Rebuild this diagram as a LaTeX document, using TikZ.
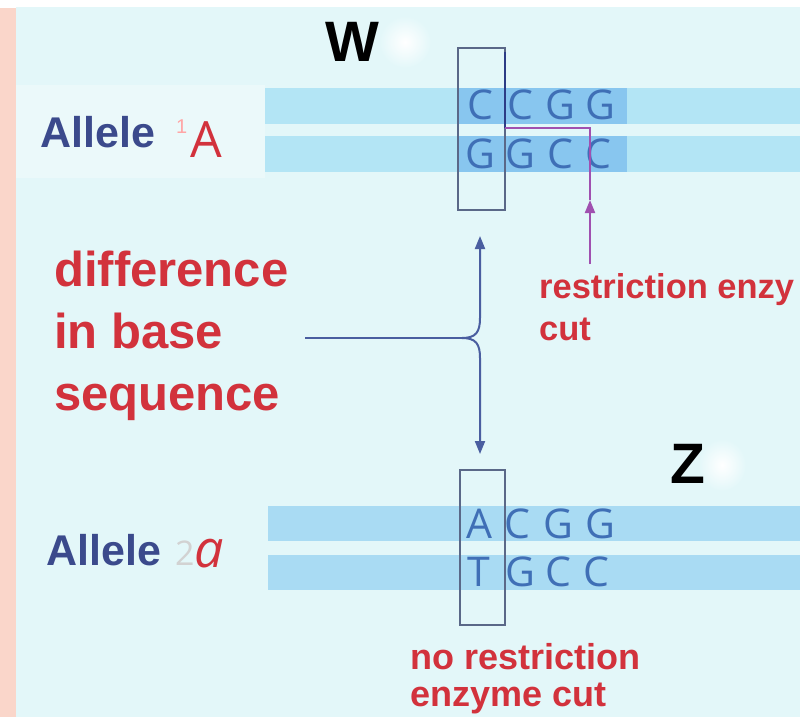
\documentclass[tikz,border=0pt]{standalone}
\usepackage{fontspec}
\setmainfont{Liberation Sans}
\newfontfamily\basefont{Open Sans}
\usetikzlibrary{arrows.meta}
\definecolor{bgcyan}{HTML}{E3F7F9}
\definecolor{pinkstrip}{HTML}{FAD6CA}
\definecolor{bandlight}{HTML}{B3E5F5}
\definecolor{banddark}{HTML}{88C6EF}
\definecolor{bandlow}{HTML}{A9DBF3}
\definecolor{basecol}{HTML}{3F6FB6}
\definecolor{boxcol}{HTML}{5A6888}
\definecolor{redtxt}{HTML}{D2323C}
\definecolor{alleleblue}{HTML}{3B4A8C}
\definecolor{cutpurple}{HTML}{A050B0}
\definecolor{navy}{HTML}{2C3C86}
\definecolor{linkblue}{HTML}{4A5EA0}
\tikzset{
  redlbl/.style={text=redtxt, font=\bfseries, inner sep=0pt, align=left},
  allelelbl/.style={text=alleleblue, font=\bfseries\fontsize{43}{43}\selectfont, inner sep=0pt, anchor=base west},
  bigletter/.style={text=black, font=\bfseries\fontsize{57}{57}\selectfont, inner sep=0pt},
  dnabase/.style={text=basecol, font=\basefont\fontsize{41}{41}\selectfont, inner sep=0pt},
  sitebox/.style={draw=boxcol, line width=2pt},
  link/.style={draw=linkblue, line width=2pt},
  linktip/.style={-{Triangle[length=13pt,width=10pt]}, draw=linkblue, line width=2pt},
  glow/.style={inner color=white, outer color=bgcyan},
}
\begin{document}
\begin{tikzpicture}[x=1pt,y=-1pt]
\useasboundingbox (0,0) rectangle (800,717);
% page background, side strip and soft highlights
\fill[white] (0,0) rectangle (800,717);
\fill[bgcyan] (16,7) rectangle (800,717);
\fill[pinkstrip] (0,8) rectangle (16,717);
\fill[white,opacity=0.3] (16,85) rectangle (265,178);
\shade[glow] (405,42) circle (26);
\shade[glow] (722,465) ellipse (24 and 26);

% DNA strands, allele 1
\fill[bandlight] (265,88) rectangle (800,124);
\fill[bandlight] (265,136) rectangle (800,172);
\fill[banddark] (458,88) rectangle (627,124);
\fill[banddark] (458,136) rectangle (627,172);
% DNA strands, allele 2
\fill[bandlow] (268,506) rectangle (800,541);
\fill[bandlow] (268,555) rectangle (800,590);

% bases, allele 1
\foreach \ch/\x in {C/480,C/520,G/560,G/600} \node[dnabase] at (\x,105) {\ch};
\foreach \ch/\x in {G/480,G/520,C/560,C/598} \node[dnabase] at (\x,154) {\ch};
% bases, allele 2
\foreach \ch/\x in {A/479,C/517,G/558,G/600} \node[dnabase] at (\x,524) {\ch};
\foreach \ch/\x in {T/479,G/520,C/558,C/596} \node[dnabase] at (\x,572) {\ch};

% boxes round the differing base pair
\node[sitebox, minimum width=47pt, minimum height=161pt, inner sep=0pt] (boxW) at (481,129) {};
\node[sitebox, minimum width=45pt, minimum height=155pt, inner sep=0pt] (boxZ) at (482.5,547.5) {};

% labels W and Z
\node[bigletter] (W) at (352,42) {W};
\node[bigletter] (Z) at (688,464) {Z};

% allele names
\node[allelelbl] (al1) at (40,147) {Allele};
\node[text=red!35, font=\fontsize{20}{20}\selectfont, inner sep=0pt, anchor=base west] (n1) at (176,133) {1};
\node[text=redtxt, font=\basefont\fontsize{50}{50}\selectfont, inner sep=0pt, anchor=base west] (bigA) at (190,157) {A};
\node[allelelbl] (al2) at (46,565) {Allele};
\node[text=gray!35, font=\basefont\fontsize{34}{34}\selectfont, inner sep=0pt, anchor=base west] (n2) at (175,565) {2};
\node[text=redtxt, font=\basefont\itshape\fontsize{52}{52}\selectfont, inner sep=0pt, anchor=base west] (smalla) at (194,567) {a};

% red captions
\node[redlbl, font=\bfseries\fontsize{49}{62}\selectfont, anchor=north west] (diff) at (54,251) {difference\\in base\\sequence};
\node[redlbl, font=\bfseries\fontsize{34.5}{42}\selectfont, anchor=north west] (cutlbl) at (539,273) {restriction enzy\\cut};
\node[redlbl, font=\bfseries\fontsize{36}{37}\selectfont, anchor=north west] (nocut) at (410,643) {no restriction\\enzyme cut};

% restriction enzyme cut line
\coordinate (cutTop) at (505,52);
\coordinate (cutCorner) at (505,128);
\coordinate (cutRight) at (590,128);
\coordinate (cutTip) at (590,200);
\coordinate (cutFoot) at (590,264);
\draw[navy, line width=2.5pt] (cutTop) -- (cutCorner);
\draw[cutpurple, line width=2pt] (cutCorner) -- (cutRight) -- (cutTip);
\draw[cutpurple, line width=2pt, -{Triangle[length=13pt,width=10pt]}] (cutFoot) -- (cutTip);

% connector from the caption to both sites
\coordinate (linkStart) at (305,338);
\coordinate (fork) at (462,338);
\coordinate (upTip) at (480,236);
\coordinate (downTip) at (480,454);
\draw[link] (linkStart) -- (fork);
\draw[linktip] (fork) .. controls (476,338) and (480,332) .. (480,318) -- (upTip);
\draw[linktip] (fork) .. controls (476,338) and (480,344) .. (480,358) -- (downTip);
\end{tikzpicture}
\end{document}
